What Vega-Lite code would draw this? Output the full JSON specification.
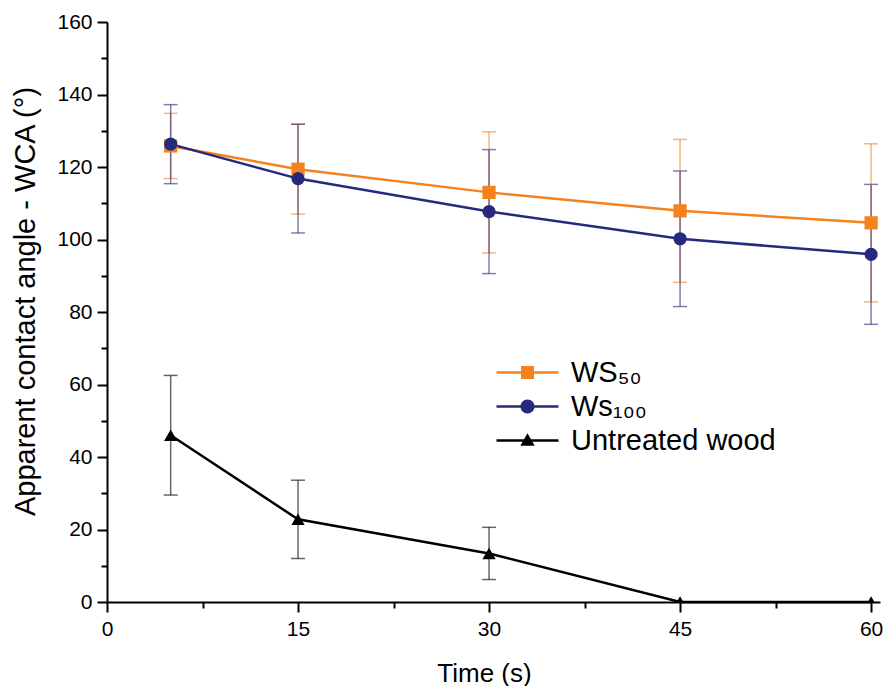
{
  "$schema": "https://vega.github.io/schema/vega-lite/v6.json",
  "autosize": {"type": "none"},
  "padding": {"left": 107, "top": 22, "right": 5, "bottom": 84},
  "width": 773,
  "height": 580,
  "background": "white",
  "config": {
    "view": {"stroke": null},
    "font": "Liberation Sans",
    "axis": {
      "domainColor": "black", "domainWidth": 2, "tickColor": "black", "tickWidth": 2,
      "labelColor": "black", "titleColor": "black", "labelFont": "Liberation Sans", "titleFont": "Liberation Sans",
      "labelFontSize": 21, "titleFontWeight": "normal", "grid": false
    }
  },
  "data": {
    "values": [
      {"series": "WS₅₀", "time": 5, "wca": 125.8, "err": 9.0},
      {"series": "WS₅₀", "time": 15, "wca": 119.4, "err": 12.4},
      {"series": "WS₅₀", "time": 30, "wca": 113.0, "err": 16.7},
      {"series": "WS₅₀", "time": 45, "wca": 107.9, "err": 19.7},
      {"series": "WS₅₀", "time": 60, "wca": 104.6, "err": 21.8},
      {"series": "Ws₁₀₀", "time": 5, "wca": 126.3, "err": 10.9},
      {"series": "Ws₁₀₀", "time": 15, "wca": 116.8, "err": 15.0},
      {"series": "Ws₁₀₀", "time": 30, "wca": 107.7, "err": 17.1},
      {"series": "Ws₁₀₀", "time": 45, "wca": 100.2, "err": 18.7},
      {"series": "Ws₁₀₀", "time": 60, "wca": 95.9, "err": 19.3},
      {"series": "Untreated wood", "time": 5, "wca": 46.0, "err": 16.5},
      {"series": "Untreated wood", "time": 15, "wca": 22.8, "err": 10.8},
      {"series": "Untreated wood", "time": 30, "wca": 13.4, "err": 7.2},
      {"series": "Untreated wood", "time": 45, "wca": 0, "err": 0},
      {"series": "Untreated wood", "time": 60, "wca": 0, "err": 0}
    ]
  },
  "encoding": {
    "x": {
      "field": "time", "type": "quantitative",
      "scale": {"domain": [0, 60.7], "nice": false, "zero": false},
      "axis": {
        "title": "Time (s)", "titleFontSize": 26, "titlePadding": 21, "titleX": 377,
        "values": [0, 7.5, 15, 22.5, 30, 37.5, 45, 52.5, 60],
        "labelExpr": "datum.value % 15 === 0 ? datum.label : ''",
        "tickSize": {"condition": {"test": "datum.value % 15 === 0", "value": 10}, "value": 6},
        "labelPadding": 6, "labelFlush": false
      }
    },
    "y": {
      "field": "wca", "type": "quantitative",
      "scale": {"domain": [0, 160], "nice": false},
      "axis": {
        "title": "Apparent contact angle - WCA (°)", "titleFontSize": 29, "titlePadding": 16, "titleY": 279,
        "values": [0, 10, 20, 30, 40, 50, 60, 70, 80, 90, 100, 110, 120, 130, 140, 150, 160],
        "labelExpr": "datum.value % 20 === 0 ? datum.label : ''",
        "tickSize": {"condition": {"test": "datum.value % 20 === 0", "value": 10}, "value": 6},
        "labelPadding": 5
      }
    },
    "color": {
      "field": "series", "type": "nominal",
      "scale": {"domain": ["WS₅₀", "Ws₁₀₀", "Untreated wood"], "range": ["#F5821F", "#262A7D", "#000000"]},
      "legend": {
        "orient": "none", "legendX": 406, "legendY": 336, "title": null, "padding": 0,
        "labelFontSize": 29, "labelFont": "Liberation Sans", "labelColor": "black", "labelLimit": 500,
        "symbolSize": 400, "labelOffset": 29, "rowPadding": 4, "symbolType": "square",
        "encode": {
          "symbols": {
            "update": {
              "shape": {"signal": "datum.index === 0 ? 'M-3.1,-0.12H3.1V0.12H-3.1Z M-0.65,-0.65H0.65V0.65H-0.65Z' : (datum.index === 1 ? 'M-3.1,-0.12H3.1V0.12H-3.1Z M-0.7,0A0.7,0.7 0 1,1 0.7,0A0.7,0.7 0 1,1 -0.7,0Z' : 'M-3.1,-0.12H3.1V0.12H-3.1Z M0,-0.72L0.72,0.52L-0.72,0.52Z')"},
              "fill": {"scale": "color", "field": "value"},
              "stroke": {"value": "transparent"},
              "strokeWidth": {"value": 0},
              "opacity": {"value": 1}
            }
          }
        }
      }
    }
  },
  "layer": [
    {
      "transform": [{"filter": "datum.err > 0"}],
      "mark": {"type": "errorbar", "ticks": {"size": 14, "thickness": 1.5, "opacity": 0.6}, "rule": {"strokeWidth": 1.5, "opacity": 0.6}},
      "encoding": {
        "yError": {"field": "err"}
      }
    },
    {
      "mark": {"type": "line", "strokeWidth": 2.5}
    },
    {
      "transform": [{"filter": "datum.series === 'WS₅₀'"}],
      "mark": {"type": "point", "filled": true, "opacity": 1, "size": 175, "shape": "square", "clip": true}
    },
    {
      "transform": [{"filter": "datum.series === 'Ws₁₀₀'"}],
      "mark": {"type": "point", "filled": true, "opacity": 1, "size": 175, "shape": "circle", "clip": true}
    },
    {
      "transform": [{"filter": "datum.series === 'Untreated wood'"}],
      "mark": {"type": "point", "filled": true, "opacity": 1, "size": 175, "shape": "triangle-up", "clip": true}
    }
  ]
}
